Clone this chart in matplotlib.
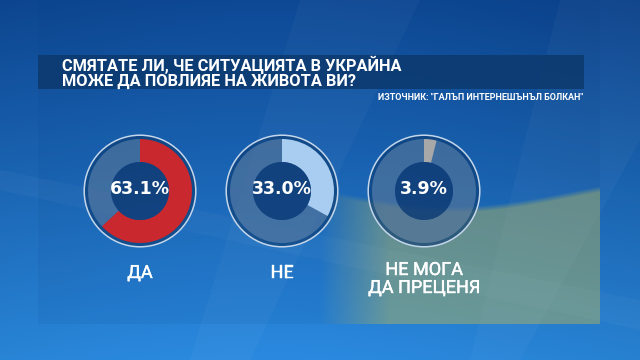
import numpy as np
import matplotlib
matplotlib.use("Agg")
import matplotlib.pyplot as plt
import matplotlib.patheffects as pe
from matplotlib.patches import Rectangle, Circle, Polygon

# Survey data
question = ["СМЯТАТЕ ЛИ, ЧЕ СИТУАЦИЯТА В УКРАЙНА", "МОЖЕ ДА ПОВЛИЯЕ НА ЖИВОТА ВИ?"]
source = "ИЗТОЧНИК: \"ГАЛЪП ИНТЕРНЕШЪНЪЛ БОЛКАН\""
answers = ["ДА", "НЕ", "НЕ МОГА\nДА ПРЕЦЕНЯ"]
shares = [63.1, 33.0, 3.9]
ring_colors = ["#c8282e", "#a8cdf0", "#a8a8a8"]

W, H = 640, 360
fig = plt.figure(figsize=(W / 100, H / 100), dpi=100)
bg = fig.add_axes([0, 0, 1, 1])
bg.set_xlim(0, W)
bg.set_ylim(H, 0)
bg.axis("off")

# blue studio backdrop: vertical gradient plus a soft horizontal variation
yy, xx = np.mgrid[0:H, 0:W].astype(float)
top = np.array([0.05, 0.27, 0.56])
bot = np.array([0.16, 0.52, 0.84])
t = (yy / H)[..., None]
img = top * (1 - t) + bot * t
img += (0.035 * np.sin(xx / W * np.pi * 1.2))[..., None] * np.array([0.2, 0.6, 1.0])

# waving yellow flag band in the lower right of the panel
u = (xx - 340) / 260
edge = 192 + 14 * np.sin(u * np.pi * 1.15)
inside = np.clip((yy - edge) / 6.0, 0, 1)
fade = np.clip((xx - 320) / 70.0, 0, 1)
panel = (xx >= 38) & (xx < 600) & (yy < 324)
a = 0.40 * inside * fade * panel
yellow = np.array([0.88, 0.82, 0.30])
img = img * (1 - a[..., None]) + yellow * a[..., None]
img = np.clip(img, 0, 1)
bg.imshow(img, extent=(0, W, H, 0), zorder=0, interpolation="bilinear")

# diagonal light streaks
streaks = [
    [(300, 0), (420, 0), (250, 360), (190, 360)],
    [(560, 0), (640, 0), (640, 140), (520, 360), (470, 360)],
    [(0, 170), (0, 190), (640, 330), (640, 300)],
]
for pts in streaks:
    bg.add_patch(Polygon(pts, closed=True, color="white", alpha=0.03, lw=0, zorder=1))

# translucent panel holding the chart
bg.add_patch(Rectangle((38, 0), 562, 324, color="#0a3a78", alpha=0.08, lw=0, zorder=1))

# title bar
bg.add_patch(Rectangle((38, 55), 546, 34, color="#0c3a6e", alpha=0.88, lw=0, zorder=2))
title_font = ["Roboto", "DejaVu Sans"]
bg.text(62, 72.5, "\n".join(question), color="white", fontsize=11.8, fontweight="bold",
        family=title_font, va="center", ha="left", linespacing=0.95, zorder=3)
bg.text(583, 97.5, source, color="white", fontsize=6.5, fontweight="bold",
        family=title_font, va="center", ha="right", zorder=3)

# donut charts
centers_x = [140, 282, 424]
cy = 191
r_outer_line = 57
r_ring = 52
r_hole = 29
cap_font = ["Roboto", "DejaVu Sans"]
cap_effect = [pe.withStroke(linewidth=0.3, foreground="white")]
for cx, val, col, label in zip(centers_x, shares, ring_colors, answers):
    ax = fig.add_axes([(cx - r_outer_line) / W, 1 - (cy + r_outer_line) / H,
                       2 * r_outer_line / W, 2 * r_outer_line / H])
    # dark band and thin light outline
    ax.add_patch(Circle((0, 0), r_outer_line - 1.2, facecolor="#0b3a70", alpha=0.62,
                        edgecolor="none", zorder=1))
    ax.add_patch(Circle((0, 0), r_outer_line - 1.2, facecolor="none",
                        edgecolor="#c4d6ea", lw=1.1, zorder=4))
    # value slice and remainder, clockwise from twelve o'clock
    wedges, _ = ax.pie([val, 100 - val], colors=[col, "#ffffff"], startangle=90,
                       counterclock=False, radius=r_ring,
                       wedgeprops=dict(width=r_ring - r_hole, linewidth=0))
    wedges[1].set_alpha(0.2)
    for w in wedges:
        w.set_zorder(2)
    ax.add_patch(Circle((0, 0), r_hole, facecolor="#123f7a", alpha=0.72,
                        edgecolor="none", zorder=3))
    ax.text(0, 1.5, f"{val:.1f}%", color="white", fontsize=12.5, fontweight="bold",
            ha="center", va="center", zorder=5)
    ax.set_xlim(-r_outer_line, r_outer_line)
    ax.set_ylim(-r_outer_line, r_outer_line)
    ax.set_aspect("equal")
    ax.axis("off")

    # answer caption under the donut
    if "\n" in label:
        bg.text(cx, 279, label, color="white", fontsize=13, fontweight="normal",
                family=cap_font, ha="center", va="center", linespacing=1.0,
                path_effects=cap_effect, zorder=3)
    else:
        bg.text(cx, 273, label, color="white", fontsize=13, fontweight="normal",
                family=cap_font, ha="center", va="center",
                path_effects=cap_effect, zorder=3)

fig.savefig("out.png", dpi=100)
